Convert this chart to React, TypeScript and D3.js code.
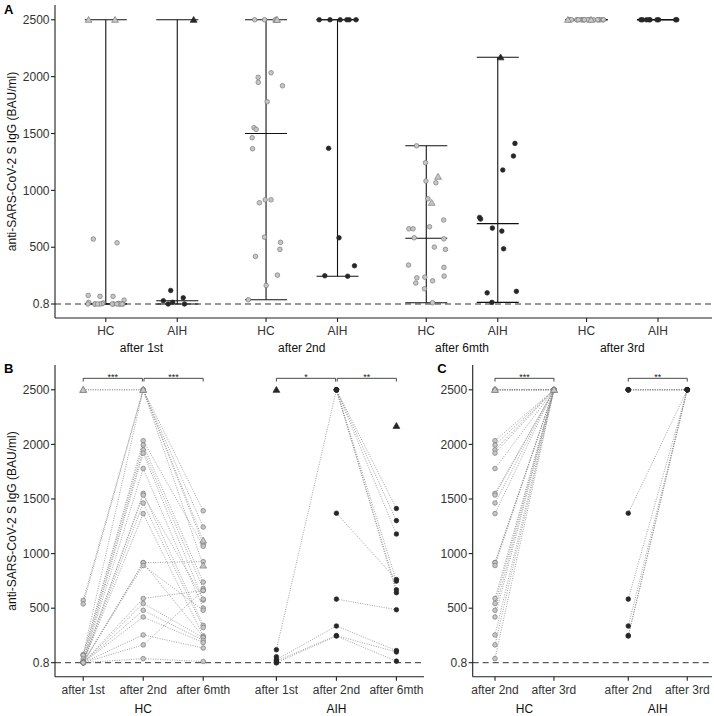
import React from 'react';
import * as d3 from 'd3';

// ---------------- data ----------------
const Y_TICKS = [0.8, 500, 1000, 1500, 2000, 2500];
const Y_TICK_LABELS = ['0.8', '500', '1000', '1500', '2000', '2500'];
const GROUPS = ['HC', 'AIH'];
const TIMEPOINTS_A = ['after 1st', 'after 2nd', 'after 6mth', 'after 3rd'];
const TIMEPOINTS_B = ['after 1st', 'after 2nd', 'after 6mth'];
const TIMEPOINTS_C = ['after 2nd', 'after 3rd'];
const Y_TITLE = 'anti-SARS-CoV-2 S IgG (BAU/ml)';
const LOD = 0.8;

// HC subjects (one entry per subject)
const HC_SHAPE = ['tri', 'tri', 'c', 'c', 'c', 'c', 'c', 'c', 'c', 'c', 'c', 'c', 'c', 'c', 'c', 'c', 'c', 'c', 'c', 'c', 'c', 'c', 'c', 'c'];
const HC_AFTER_1ST = [2500, 2500, 572, 539, 76, 68, 68, 35, 15, 10, 6, 3, 0.8, 0.8, 0.8, 0.8, 0.8, 0.8, 0.8, 0.8, 0.8, 0.8, 0.8, 0.8];
const HC_AFTER_2ND = [2500, 2500, 2500, 2500, 2500, 2034, 1994, 1950, 1920, 1779, 1551, 1536, 1463, 1366, 917, 917, 891, 589, 543, 481, 419, 255, 164, 38];
const HC_AFTER_6MTH = [1120, 891, 1392, 1243, 1082, 1067, 739, 680, 574, 501, 343, 583, 323, 246, 926, 237, 481, 662, 231, 205, 185, 135, 662, 12];
const HC_AFTER_3RD = [2500, 2500, 2500, 2500, 2500, 2500, 2500, 2500, 2500, 2500, 2500, 2500, 2500, 2500, 2500, 2500, 2500, 2500, 2500, 2500, 2500, 2500, 2500, 2500];

// AIH subjects
const AIH_SHAPE = ['tri', 'c', 'c', 'c', 'c', 'c', 'c', 'c', 'c', 'c', 'c', 'c', 'c', 'c'];
const AIH_AFTER_1ST = [2500, 120, 55, null, null, null, null, null, null, null, 29, 16, 0.8, 0.8];
const AIH_AFTER_2ND = [null, 2500, null, 2500, 2500, 2500, 2500, 2500, 1370, 583, 337, 249, 245, null];
const AIH_AFTER_6MTH = [2170, 1413, null, 1302, 1179, 748, 668, 642, 762, 486, 112, 99, 15, null];
const AIH_AFTER_3RD = [null, 2500, null, 2500, 2500, null, null, 2500, 2500, 2500, 2500, 2500, 2500, null];

const SIG_B_HC = ['***', '***'];
const SIG_B_AIH = ['*', '**'];
const SIG_C = ['***', '**'];
const SIG_Y = 2605;

// ---------------- layout ----------------
const W = 714;
const H = 716;
const FONT = "'Liberation Sans', Arial, Helvetica, sans-serif";
const AXIS_COL = '#1f1f1f';
const TEXT_COL = '#333333';
const HC_FILL = '#c6c6c6';
const HC_STROKE = '#7a7a7a';
const AIH_FILL = '#262626';

const yA = d3.scaleLinear().domain([-122.3, 2630]).range([318, 5]);
const yB = d3.scaleLinear().domain([-127.4, 2727]).range([676.7, 365]);
const xA = d3.scaleLinear().domain([0.46, 4.56]).range([55, 712]);
const xB = d3.scaleLinear().domain([0.53, 6.68]).range([55, 424]);
const xC = d3.scaleLinear().domain([0.622, 4.68]).range([472.7, 712]);
const POS_B = [[1, 2, 3], [4.22, 5.22, 6.22]];
const POS_C = [[1, 2], [3.26, 4.26]];
const DODGE = 0.223;
const JITTER = 0.24;
const CAP = 21;

const HC_SERIES = [HC_AFTER_1ST, HC_AFTER_2ND, HC_AFTER_6MTH, HC_AFTER_3RD];
const AIH_SERIES = [AIH_AFTER_1ST, AIH_AFTER_2ND, AIH_AFTER_6MTH, AIH_AFTER_3RD];
const SERIES = [HC_SERIES, AIH_SERIES];
const SHAPES = [HC_SHAPE, AIH_SHAPE];

const triPath = d3.symbol(d3.symbolTriangle, 20)() as string;

function Marker({ x, y, shape, g }: { x: number; y: number; shape: string; g: number }) {
  const fill = g === 0 ? HC_FILL : AIH_FILL;
  const stroke = g === 0 ? HC_STROKE : AIH_FILL;
  if (shape === 'tri') {
    return <path d={triPath} transform={`translate(${x},${y + 0.6})`} fill={fill} stroke={stroke} strokeWidth={0.7} />;
  }
  return <circle cx={x} cy={y} r={2.3} fill={fill} stroke={stroke} strokeWidth={0.7} />;
}

function YAxis({ x, y, top, bottom }: { x: number; y: d3.ScaleLinear<number, number>; top: number; bottom: number }) {
  return (
    <g>
      <line x1={x} x2={x} y1={top} y2={bottom} stroke={AXIS_COL} strokeWidth={1.1} />
      {Y_TICKS.map((t, i) => (
        <g key={i}>
          <line x1={x - 4} x2={x} y1={y(t)} y2={y(t)} stroke={AXIS_COL} strokeWidth={1.1} />
          <text x={x - 5.5} y={y(t) + 4.2} textAnchor="end" fontSize={12} fill={TEXT_COL}>{Y_TICK_LABELS[i]}</text>
        </g>
      ))}
    </g>
  );
}

function Bracket({ x1, x2, y, label }: { x1: number; x2: number; y: number; label: string }) {
  return (
    <g>
      <path d={`M${x1},${y + 3.2}V${y}H${x2}V${y + 3.2}`} fill="none" stroke="#333" strokeWidth={0.9} />
      <text x={(x1 + x2) / 2} y={y + 1.2} textAnchor="middle" fontSize={9} fill="#222">{label}</text>
    </g>
  );
}

function PanelA() {
  const rng = d3.randomLcg(0.4242);
  const bars: any[] = [];
  const pts: any[] = [];
  TIMEPOINTS_A.forEach((tp, t) => {
    GROUPS.forEach((gname, g) => {
      const arr = SERIES[g][t];
      const cx = xA(t + 1) + (g === 0 ? -1 : 1) * DODGE * (xA(2) - xA(1));
      const vals = arr.filter((v) => v !== null) as number[];
      const mn = d3.min(vals) as number;
      const mx = d3.max(vals) as number;
      const md = d3.median(vals) as number;
      bars.push(
        <g key={`b${t}${g}`} stroke="#111" strokeWidth={1.1}>
          <line x1={cx} x2={cx} y1={yA(mn)} y2={yA(mx)} />
          <line x1={cx - CAP} x2={cx + CAP} y1={yA(mn)} y2={yA(mn)} />
          <line x1={cx - CAP} x2={cx + CAP} y1={yA(mx)} y2={yA(mx)} />
          <line x1={cx - CAP} x2={cx + CAP} y1={yA(md)} y2={yA(md)} />
        </g>
      );
      arr.forEach((v, i) => {
        const j = (rng() - 0.5) * JITTER * (xA(2) - xA(1));
        if (v === null) return;
        pts.push({ x: cx + j, y: yA(v), shape: SHAPES[g][i], g, key: `p${t}${g}${i}` });
      });
    });
  });
  pts.sort((a, b) => (a.shape === 'tri' ? 1 : 0) - (b.shape === 'tri' ? 1 : 0));
  return (
    <g>
      <line x1={55} x2={712} y1={yA(LOD)} y2={yA(LOD)} stroke="#333" strokeWidth={1} strokeDasharray="6,4" />
      {bars}
      {pts.map((p) => <Marker key={p.key} x={p.x} y={p.y} shape={p.shape} g={p.g} />)}
      <YAxis x={55} y={yA} top={5} bottom={318} />
      <line x1={55} x2={712} y1={318} y2={318} stroke={AXIS_COL} strokeWidth={1.1} />
      {TIMEPOINTS_A.map((tp, t) => (
        <g key={tp}>
          {GROUPS.map((gname, g) => {
            const cx = xA(t + 1) + (g === 0 ? -1 : 1) * DODGE * (xA(2) - xA(1));
            return (
              <g key={gname}>
                <line x1={cx} x2={cx} y1={318} y2={322} stroke={AXIS_COL} strokeWidth={1.1} />
                <text x={cx} y={335} textAnchor="middle" fontSize={12} fill={TEXT_COL}>{gname}</text>
              </g>
            );
          })}
          <text x={xA(t + 1)} y={352.3} textAnchor="middle" fontSize={12} fill="#111">{tp}</text>
        </g>
      ))}
    </g>
  );
}

function PairedPanel({ xs, positions, seriesIdx, labels, sigs, left, right }: any) {
  const lines: any[] = [];
  const pts: any[] = [];
  GROUPS.forEach((gname, g) => {
    const ser = seriesIdx.map((k: number) => SERIES[g][k]);
    const n = ser[0].length;
    for (let i = 0; i < n; i++) {
      for (let t = 0; t < ser.length - 1; t++) {
        const a = ser[t][i];
        const b = ser[t + 1][i];
        if (a === null || b === null) continue;
        lines.push(
          <line key={`l${g}${i}${t}`} x1={xs(positions[g][t])} x2={xs(positions[g][t + 1])} y1={yB(a)} y2={yB(b)}
            stroke="#8a8a8a" strokeWidth={0.8} strokeDasharray="1,1.4" />
        );
      }
      for (let t = 0; t < ser.length; t++) {
        const v = ser[t][i];
        if (v === null) continue;
        pts.push({ x: xs(positions[g][t]), y: yB(v), shape: SHAPES[g][i], g, key: `q${g}${i}${t}` });
      }
    }
  });
  pts.sort((a, b) => (a.shape === 'tri' ? 1 : 0) - (b.shape === 'tri' ? 1 : 0));
  const sy = yB(SIG_Y);
  return (
    <g>
      <line x1={left} x2={right} y1={yB(LOD)} y2={yB(LOD)} stroke="#333" strokeWidth={1} strokeDasharray="6,4" />
      {lines}
      {pts.map((p) => <Marker key={p.key} x={p.x} y={p.y} shape={p.shape} g={p.g} />)}
      {GROUPS.map((gname, g) =>
        sigs[g].map((s: string, k: number) => (
          <Bracket key={`s${g}${k}`} x1={xs(positions[g][k]) + (k > 0 ? 0.8 : 0)} x2={xs(positions[g][k + 1]) - (k < sigs[g].length - 1 ? 0.8 : 0)} y={sy} label={s} />
        ))
      )}
      <YAxis x={left} y={yB} top={365} bottom={676.7} />
      <line x1={left} x2={right} y1={676.7} y2={676.7} stroke={AXIS_COL} strokeWidth={1.1} />
      {GROUPS.map((gname, g) => (
        <g key={gname}>
          {labels.map((lab: string, t: number) => (
            <g key={lab}>
              <line x1={xs(positions[g][t])} x2={xs(positions[g][t])} y1={676.7} y2={680.7} stroke={AXIS_COL} strokeWidth={1.1} />
              <text x={xs(positions[g][t])} y={694.3} textAnchor="middle" fontSize={12} fill={TEXT_COL}>{lab}</text>
            </g>
          ))}
          <text x={(xs(positions[g][0]) + xs(positions[g][labels.length - 1])) / 2} y={712.6} textAnchor="middle" fontSize={12} fill="#111">{gname}</text>
        </g>
      ))}
    </g>
  );
}

export default function App() {
  return (
    <svg width={W} height={H} viewBox={`0 0 ${W} ${H}`} style={{ position: 'absolute', left: 0, top: 0, display: 'block', background: '#fff' }}
      fontFamily={FONT}>
      <rect width={W} height={H} fill="#fff" />
      <PanelA />
      <PairedPanel xs={xB} positions={POS_B} seriesIdx={[0, 1, 2]} labels={TIMEPOINTS_B} sigs={[SIG_B_HC, SIG_B_AIH]} left={55} right={424} />
      <PairedPanel xs={xC} positions={POS_C} seriesIdx={[1, 3]} labels={TIMEPOINTS_C} sigs={[[SIG_C[0]], [SIG_C[1]]]} left={472.7} right={712} />
      <text transform={`translate(15.5,161.5) rotate(-90)`} textAnchor="middle" fontSize={12} fill="#111">{Y_TITLE}</text>
      <text transform={`translate(15.5,521) rotate(-90)`} textAnchor="middle" fontSize={12} fill="#111">{Y_TITLE}</text>
      <text x={4} y={13.5} fontSize={13} fontWeight="bold" fill="#000">A</text>
      <text x={4} y={372.7} fontSize={13} fontWeight="bold" fill="#000">B</text>
      <text x={437.3} y={372.7} fontSize={13} fontWeight="bold" fill="#000">C</text>
    </svg>
  );
}
